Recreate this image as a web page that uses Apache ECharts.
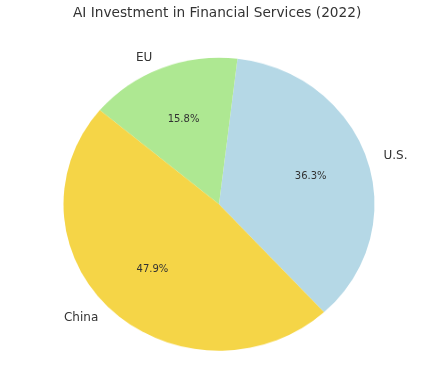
<!DOCTYPE html>
<html><head><meta charset="utf-8">
<script src="https://cdn.jsdelivr.net/npm/echarts@6/dist/echarts.min.js"></script>
<style>
html,body{margin:0;padding:0;background:#fff}
#wrap{position:relative;width:442px;height:384px}
#shapes,#labels{position:absolute;left:0;top:0;width:442px;height:384px}
#shapes{transform:scaleY(0.942);transform-origin:0 204.2px}
</style>
</head><body><div id="wrap"><div id="shapes"></div><div id="labels"></div></div>
<script>
const categories = ['U.S.', 'EU', 'China'];
const values = [36.3, 15.8, 47.9];
const colors = ['#b5d8e6', '#aee892', '#f5d547'];
const titleText = 'AI Investment in Financial Services (2022)';

const CX = 219, CY = 204.2, R = 155.5, SY = 0.942, START = -47.5;
const font = 'DejaVu Sans';

// Pie wedges (circle squashed vertically to match the reference's ellipse)
const shapes = echarts.init(document.getElementById('shapes'), null, { renderer: 'canvas' });
shapes.setOption({
  animation: false,
  series: [{
    type: 'pie', center: [CX, CY], radius: R, startAngle: START, clockwise: false, silent: true,
    data: categories.map((n, i) => ({ name: n, value: values[i], itemStyle: { color: colors[i] } })),
    label: { show: false }, labelLine: { show: false }, itemStyle: { borderWidth: 0 }
  }]
});

// Title and labels (unsquashed text, label positions mapped onto the ellipse)
const squashY = p => {
  const r = p.labelRect;
  const c = r.y + r.height / 2;
  return { dy: (c - CY) * (SY - 1) };
};
const labels = echarts.init(document.getElementById('labels'), null, { renderer: 'canvas' });
labels.setOption({
  animation: false,
  title: { text: titleText, left: 68, top: 1, textStyle: { fontFamily: font, fontSize: 13.7, fontWeight: 'normal', color: '#333' } },
  series: [
    {
      type: 'pie', center: [CX, CY], radius: R, startAngle: START, clockwise: false, silent: true,
      data: categories.map((n, i) => ({ name: n, value: values[i] })),
      itemStyle: { color: 'rgba(0,0,0,0)', borderWidth: 0 },
      label: { show: true, position: 'outside', formatter: '{b}', fontFamily: font, fontSize: 12, color: '#333' },
      labelLine: { show: false, length: 12, length2: 0 },
      labelLayout: squashY
    },
    {
      type: 'pie', center: [CX, CY], radius: [R * 0.2, R], startAngle: START, clockwise: false, silent: true,
      data: categories.map((n, i) => ({ name: n, value: values[i] })),
      itemStyle: { color: 'rgba(0,0,0,0)', borderWidth: 0 },
      label: { show: true, position: 'inside', formatter: p => p.value.toFixed(1) + '%', fontFamily: font, fontSize: 10, color: '#333' },
      labelLine: { show: false },
      labelLayout: squashY
    }
  ]
});
</script></body></html>
